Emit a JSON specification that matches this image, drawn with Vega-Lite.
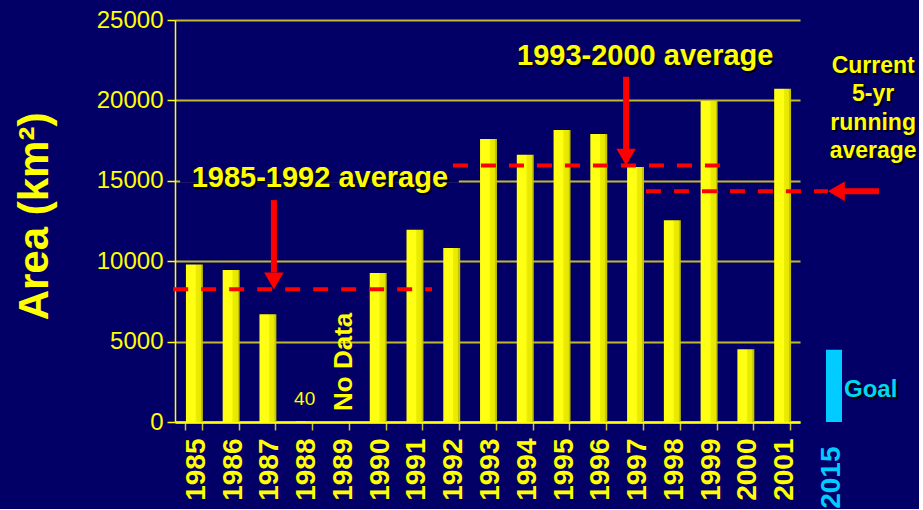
{
  "$schema": "https://vega.github.io/schema/vega-lite/v6.json",
  "background": "#020066",
  "padding": {"left": 13, "top": 8, "right": 0, "bottom": 0},
  "bounds": "flush",
  "spacing": 14,
  "config": {
    "view": {"stroke": null},
    "font": "Liberation Sans",
    "axis": {"labelFont": "Liberation Sans", "titleFont": "Liberation Sans"}
  },
  "datasets": {
    "area": [
      {"year": "1985", "area": 9800},
      {"year": "1986", "area": 9450},
      {"year": "1987", "area": 6700},
      {"year": "1988", "area": 40},
      {"year": "1989", "area": null},
      {"year": "1990", "area": 9270},
      {"year": "1991", "area": 11950},
      {"year": "1992", "area": 10820},
      {"year": "1993", "area": 17600},
      {"year": "1994", "area": 16620},
      {"year": "1995", "area": 18160},
      {"year": "1996", "area": 17910},
      {"year": "1997", "area": 15860},
      {"year": "1998", "area": 12540},
      {"year": "1999", "area": 19960},
      {"year": "2000", "area": 4530},
      {"year": "2001", "area": 20730}
    ],
    "averages": [
      {"period": "1985-1992", "average": 8250, "label": "1985-1992 average"},
      {"period": "1993-2000", "average": 15950, "label": "1993-2000 average"},
      {"period": "current", "average": 14350, "label": ["Current", "5-yr", "running", "average"]}
    ],
    "goal": [{"year": "2015", "goal": 4500}]
  },
  "hconcat": [
    {
      "width": 625,
      "height": 402,
      "layer": [
        {
          "data": {"name": "area"},
          "layer": [
            {
              "mark": {
                "type": "bar",
                "xOffset": 1,
                "color": {
                  "gradient": "linear",
                  "x1": 0, "y1": 0, "x2": 1, "y2": 0,
                  "stops": [
                    {"offset": 0, "color": "#ffff14"},
                    {"offset": 0.55, "color": "#ffff14"},
                    {"offset": 0.6, "color": "#eded00"},
                    {"offset": 0.88, "color": "#e6e600"},
                    {"offset": 0.9, "color": "#c4c400"},
                    {"offset": 1, "color": "#c4c400"}
                  ]
                }
              },
              "encoding": {
                "x": {
                  "field": "year",
                  "type": "ordinal",
                  "scale": {
                    "domain": ["1985", "1986", "1987", "1988", "1989", "1990", "1991", "1992", "1993", "1994", "1995", "1996", "1997", "1998", "1999", "2000", "2001"],
                    "paddingInner": 0.54,
                    "paddingOuter": 0.27
                  },
                  "axis": {
                    "title": null,
                    "labelAngle": 270,
                    "labelFontSize": 28,
                    "labelFontWeight": "bold",
                    "labelColor": "#ffff00",
                    "labelPadding": 8,
                    "labelOffset": 3,
                    "tickBand": "extent",
                    "tickSize": 8,
                    "tickColor": "#c8c040",
                    "tickWidth": 1.5,
                    "domainColor": "#ffff00",
                    "domainWidth": 2.5,
                    "grid": false
                  }
                },
                "y": {
                  "field": "area",
                  "type": "quantitative",
                  "scale": {"domain": [0, 25000], "nice": false},
                  "axis": {
                    "values": [0, 5000, 10000, 15000, 20000, 25000],
                    "format": "d",
                    "title": "Area (km²)",
                    "titleFontSize": 42,
                    "titleFontWeight": "bold",
                    "titleColor": "#ffff00",
                    "titlePadding": 40,
                    "titleY": 196,
                    "labelFontSize": 24,
                    "labelColor": "#ffff00",
                    "labelPadding": 4,
                    "tickSize": 8,
                    "tickColor": "#ffff00",
                    "tickWidth": 1.5,
                    "domainColor": "#ffff00",
                    "domainWidth": 1.5,
                    "grid": true,
                    "gridColor": "#c0b830",
                    "gridWidth": 2
                  }
                }
              }
            },
            {
              "transform": [{"filter": "datum.year === '1988'"}],
              "mark": {"type": "text", "dy": -16, "dx": 1, "baseline": "alphabetic", "fontSize": 19, "color": "#ffff00"},
              "encoding": {
                "x": {"field": "year", "type": "ordinal"},
                "y": {"field": "area", "type": "quantitative"},
                "text": {"field": "area", "type": "quantitative", "format": "d"}
              }
            }
          ]
        },
        {
          "data": {"name": "averages"},
          "layer": [
            {
              "transform": [{"filter": "datum.period === '1985-1992'"}],
              "layer": [
                {
                  "mark": {"type": "rule", "color": "#020066", "strokeWidth": 4},
                  "encoding": {
                    "x": {"datum": 0.14, "type": "quantitative", "scale": {"domain": [0, 17], "nice": false, "zero": false}, "axis": null},
                    "x2": {"datum": 7.72},
                    "y": {"datum": 15000, "type": "quantitative"}
                  }
                },
                {
                  "mark": {"type": "rule", "color": "#ff0000", "strokeWidth": 4, "strokeDash": [15, 13]},
                  "encoding": {
                    "x": {"datum": -0.05, "type": "quantitative", "axis": null},
                    "x2": {"datum": 6.99},
                    "y": {"field": "average", "type": "quantitative"}
                  }
                },
                {
                  "mark": {"type": "rule", "color": "#ff0000", "strokeWidth": 6},
                  "encoding": {
                    "x": {"datum": 2.69, "type": "quantitative", "axis": null},
                    "y": {"datum": 13800, "type": "quantitative"},
                    "y2": {"datum": 9300}
                  }
                },
                {
                  "mark": {"type": "point", "shape": "triangle-down", "filled": true, "opacity": 1, "color": "#ff0000", "size": 380, "yOffset": -8.4},
                  "encoding": {
                    "x": {"datum": 2.69, "type": "quantitative", "axis": null},
                    "y": {"field": "average", "type": "quantitative"}
                  }
                },
                {
                  "mark": {"type": "text", "fontSize": 29, "fontWeight": "bold", "color": "#000000", "align": "center", "baseline": "alphabetic", "dx": 2, "dy": 2},
                  "encoding": {
                    "x": {"datum": 3.94, "type": "quantitative", "axis": null},
                    "y": {"datum": 14626, "type": "quantitative"},
                    "text": {"field": "label"}
                  }
                },
                {
                  "mark": {"type": "text", "fontSize": 29, "fontWeight": "bold", "color": "#ffff00", "align": "center", "baseline": "alphabetic"},
                  "encoding": {
                    "x": {"datum": 3.94, "type": "quantitative", "axis": null},
                    "y": {"datum": 14626, "type": "quantitative"},
                    "text": {"field": "label"}
                  }
                }
              ]
            },
            {
              "transform": [{"filter": "datum.period === '1993-2000'"}],
              "layer": [
                {
                  "mark": {"type": "rule", "color": "#ff0000", "strokeWidth": 4, "strokeDash": [15, 13]},
                  "encoding": {
                    "x": {"datum": 7.56, "type": "quantitative", "axis": null},
                    "x2": {"datum": 14.87},
                    "y": {"field": "average", "type": "quantitative"}
                  }
                },
                {
                  "mark": {"type": "rule", "color": "#ff0000", "strokeWidth": 6},
                  "encoding": {
                    "x": {"datum": 12.27, "type": "quantitative", "axis": null},
                    "y": {"datum": 21470, "type": "quantitative"},
                    "y2": {"datum": 16900}
                  }
                },
                {
                  "mark": {"type": "point", "shape": "triangle-down", "filled": true, "opacity": 1, "color": "#ff0000", "size": 380, "yOffset": -8.4},
                  "encoding": {
                    "x": {"datum": 12.27, "type": "quantitative", "axis": null},
                    "y": {"field": "average", "type": "quantitative"}
                  }
                },
                {
                  "mark": {"type": "text", "fontSize": 29, "fontWeight": "bold", "color": "#000000", "align": "center", "baseline": "alphabetic", "dx": 2, "dy": 2},
                  "encoding": {
                    "x": {"datum": 12.79, "type": "quantitative", "axis": null},
                    "y": {"datum": 22200, "type": "quantitative"},
                    "text": {"field": "label"}
                  }
                },
                {
                  "mark": {"type": "text", "fontSize": 29, "fontWeight": "bold", "color": "#ffff00", "align": "center", "baseline": "alphabetic"},
                  "encoding": {
                    "x": {"datum": 12.79, "type": "quantitative", "axis": null},
                    "y": {"datum": 22200, "type": "quantitative"},
                    "text": {"field": "label"}
                  }
                }
              ]
            },
            {
              "transform": [{"filter": "datum.period === 'current'"}],
              "layer": [
                {
                  "mark": {"type": "rule", "color": "#ff0000", "strokeWidth": 4, "strokeDash": [15, 13]},
                  "encoding": {
                    "x": {"datum": 12.81, "type": "quantitative", "axis": null},
                    "x2": {"datum": 17.76},
                    "y": {"field": "average", "type": "quantitative"}
                  }
                },
                {
                  "mark": {"type": "rule", "color": "#ff0000", "strokeWidth": 6},
                  "encoding": {
                    "x": {"datum": 18.15, "type": "quantitative", "axis": null},
                    "x2": {"datum": 19.15},
                    "y": {"field": "average", "type": "quantitative"}
                  }
                },
                {
                  "mark": {"type": "point", "shape": "triangle-left", "filled": true, "opacity": 1, "color": "#ff0000", "size": 380, "xOffset": 8.4},
                  "encoding": {
                    "x": {"datum": 17.76, "type": "quantitative", "axis": null},
                    "y": {"field": "average", "type": "quantitative"}
                  }
                },
                {
                  "mark": {"type": "text", "fontSize": 23, "fontWeight": "bold", "lineHeight": 28.5, "color": "#000000", "align": "center", "baseline": "alphabetic", "dx": 2, "dy": 2},
                  "encoding": {
                    "x": {"datum": 18.99, "type": "quantitative", "axis": null},
                    "y": {"datum": 21720, "type": "quantitative"},
                    "text": {"field": "label"}
                  }
                },
                {
                  "mark": {"type": "text", "fontSize": 23, "fontWeight": "bold", "lineHeight": 28.5, "color": "#ffff00", "align": "center", "baseline": "alphabetic"},
                  "encoding": {
                    "x": {"datum": 18.99, "type": "quantitative", "axis": null},
                    "y": {"datum": 21720, "type": "quantitative"},
                    "text": {"field": "label"}
                  }
                }
              ]
            },
            {
              "data": {"name": "area"},
              "transform": [{"filter": "datum.year === '1989'"}],
              "mark": {"type": "text", "text": "No Data", "angle": 270, "fontSize": 26, "fontWeight": "bold", "color": "#ffff00", "align": "left", "baseline": "alphabetic"},
              "encoding": {
                "x": {"datum": 4.81, "type": "quantitative", "axis": null},
                "y": {"datum": 690, "type": "quantitative"}
              }
            }
          ]
        }
      ],
      "resolve": {"scale": {"x": "independent"}, "axis": {"x": "independent"}}
    },
    {
      "width": 36,
      "height": 402,
      "data": {"name": "goal"},
      "layer": [
        {
          "mark": {"type": "bar", "color": "#00ccff", "width": 16, "xOffset": 2},
          "encoding": {
            "x": {
              "field": "year",
              "type": "ordinal",
              "axis": {
                "title": null,
                "labelAngle": 270,
                "labelFontSize": 28,
                "labelFontWeight": "bold",
                "labelColor": "#00ccff",
                "labelPadding": 24,
                "ticks": false,
                "tickSize": 0,
                "domain": false,
                "grid": false
              }
            },
            "y": {"field": "goal", "type": "quantitative", "scale": {"domain": [0, 25000], "nice": false}, "axis": null}
          }
        },
        {
          "mark": {"type": "text", "text": "Goal", "fontSize": 24, "fontWeight": "bold", "color": "#000000", "align": "left", "baseline": "alphabetic", "dx": 14, "dy": 2},
          "encoding": {
            "x": {"field": "year", "type": "ordinal"},
            "y": {"datum": 1537, "type": "quantitative"}
          }
        },
        {
          "mark": {"type": "text", "text": "Goal", "fontSize": 24, "fontWeight": "bold", "color": "#00d8f0", "align": "left", "baseline": "alphabetic", "dx": 12},
          "encoding": {
            "x": {"field": "year", "type": "ordinal"},
            "y": {"datum": 1537, "type": "quantitative"}
          }
        }
      ]
    }
  ]
}
